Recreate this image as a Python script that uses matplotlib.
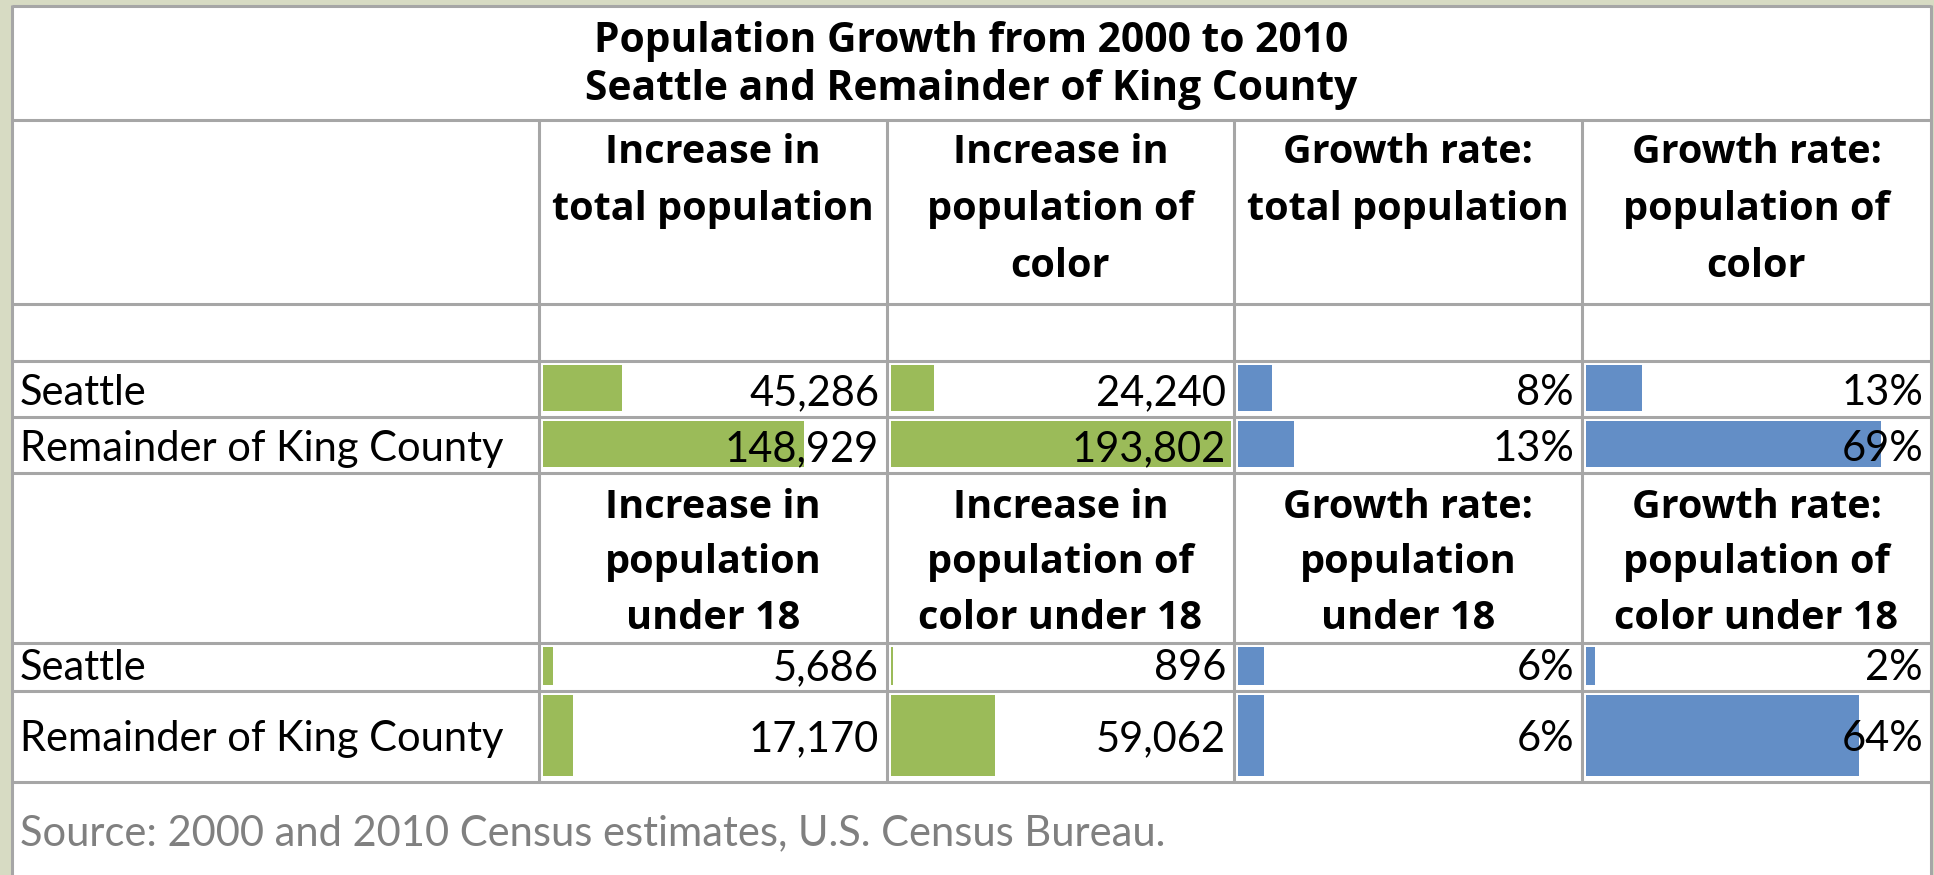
import matplotlib
matplotlib.use("Agg")
import matplotlib.pyplot as plt
from matplotlib.patches import Rectangle

plt.rcParams['font.family'] = ['Lato', 'DejaVu Sans']
BOLD_FAMILY = ['Open Sans', 'Lato', 'DejaVu Sans']

# ---------------- data ----------------
title_lines = ["Population Growth from 2000 to 2010",
               "Seattle and Remainder of King County"]
regions = ["Seattle", "Remainder of King County"]
headers_top = [["Increase in", "total population"],
               ["Increase in", "population of", "color"],
               ["Growth rate:", "total population"],
               ["Growth rate:", "population of", "color"]]
headers_bottom = [["Increase in", "population", "under 18"],
                  ["Increase in", "population of", "color under 18"],
                  ["Growth rate:", "population", "under 18"],
                  ["Growth rate:", "population of", "color under 18"]]
total_increase = [45286, 148929]
color_increase = [24240, 193802]
total_rate = [8, 13]          # percent
color_rate = [13, 69]         # percent
under18_increase = [5686, 17170]
color_under18_increase = [896, 59062]
under18_rate = [6, 6]         # percent
color_under18_rate = [2, 64]  # percent
source_text = "Source: 2000 and 2010 Census estimates, U.S. Census Bureau."

# ---------------- layout (pixels) ----------------
W, H = 1934, 875
DPI = 100
BG = "#D7DBC3"
GRID = "#A6A6A6"
GREEN = "#9BBB59"
BLUE = "#638EC6"

col_x = [12, 539, 887, 1234, 1582, 1931]
top_y, title_bottom = 6, 120
h_lines = [120, 304, 361, 417, 473, 643, 691, 782]
rows_top = [(361, 417), (417, 473)]
rows_bottom = [(643, 691), (691, 782)]
base_top = [405, 461]
base_bottom = [680, 751]
px_per_count = 0.001755
px_per_pct = 4.27

fig = plt.figure(figsize=(W / DPI, H / DPI), dpi=DPI, facecolor=BG)

# background axes (white table)
bg = fig.add_axes([0, 0, 1, 1], zorder=0)
bg.set_xlim(0, W); bg.set_ylim(H, 0); bg.axis("off")
bg.add_patch(Rectangle((col_x[0], top_y), col_x[-1] - col_x[0], H - top_y,
                       facecolor="white", edgecolor="none"))

# bar axes, one per column
columns_top = [(total_increase, "count", GREEN), (color_increase, "count", GREEN),
               (total_rate, "pct", BLUE), (color_rate, "pct", BLUE)]
columns_bottom = [(under18_increase, "count", GREEN), (color_under18_increase, "count", GREEN),
                  (under18_rate, "pct", BLUE), (color_under18_rate, "pct", BLUE)]

for ci in range(4):
    x0 = col_x[ci + 1] + 4
    x1 = col_x[ci + 2]
    kind = columns_top[ci][1]
    scale = px_per_count if kind == "count" else px_per_pct
    bax = fig.add_axes([x0 / W, 0, (x1 - x0) / W, 1], zorder=1)
    bax.set_ylim(H, 0)
    bax.set_xlim(0, (x1 - x0) / scale)
    bax.axis("off")
    bax.patch.set_alpha(0)
    for vals, rows in ((columns_top[ci][0], rows_top), (columns_bottom[ci][0], rows_bottom)):
        for v, (r0, r1) in zip(vals, rows):
            b0, b1 = r0 + 4, r1 - 6
            bax.barh((b0 + b1) / 2, v, height=b1 - b0, left=0,
                     color=columns_top[ci][2], edgecolor="none")

# top axes: grid lines and text
ax = fig.add_axes([0, 0, 1, 1], zorder=2)
ax.set_xlim(0, W); ax.set_ylim(H, 0); ax.axis("off")
ax.patch.set_alpha(0)
lw = 2.2
ax.plot([col_x[0], col_x[-1]], [top_y, top_y], color=GRID, lw=lw, solid_capstyle="butt")
for y in h_lines:
    ax.plot([col_x[0], col_x[-1]], [y, y], color=GRID, lw=lw, solid_capstyle="butt")
ax.plot([col_x[0], col_x[0]], [top_y - 1, H], color=GRID, lw=lw, solid_capstyle="butt")
ax.plot([col_x[-1], col_x[-1]], [top_y - 1, H], color=GRID, lw=lw, solid_capstyle="butt")
for x in col_x[1:-1]:
    ax.plot([x, x], [title_bottom, h_lines[-1]], color=GRID, lw=lw, solid_capstyle="butt")

REG = 30
HDR = 28.5
TTL = 29.3

cx_table = (col_x[0] + col_x[-1]) / 2
for i, t in enumerate(title_lines):
    ax.text(cx_table, 52 + 48 * i, t, ha="center", va="baseline",
            fontsize=TTL, fontweight="bold", family=BOLD_FAMILY)

for ci in range(4):
    cx = (col_x[ci + 1] + col_x[ci + 2]) / 2
    for li, t in enumerate(headers_top[ci]):
        ax.text(cx, 163 + 57 * li, t, ha="center", va="baseline",
                fontsize=HDR, fontweight="bold", family=BOLD_FAMILY)
    for li, t in enumerate(headers_bottom[ci]):
        ax.text(cx, 518 + 55.5 * li, t, ha="center", va="baseline",
                fontsize=HDR, fontweight="bold", family=BOLD_FAMILY)

def fmt(v, kind):
    return f"{v:,}" if kind == "count" else f"{v}%"

for block, bases in ((columns_top, base_top), (columns_bottom, base_bottom)):
    for ri, yb in enumerate(bases):
        ax.text(20, yb, regions[ri], ha="left", va="baseline", fontsize=REG)
        for ci in range(4):
            vals, kind, _ = block[ci]
            ax.text(col_x[ci + 2] - 8, yb, fmt(vals[ri], kind), ha="right",
                    va="baseline", fontsize=REG)

ax.text(20, 845, source_text, ha="left", va="baseline", fontsize=REG, color="#808080")

fig.savefig("out.png", dpi=DPI, facecolor=BG)
